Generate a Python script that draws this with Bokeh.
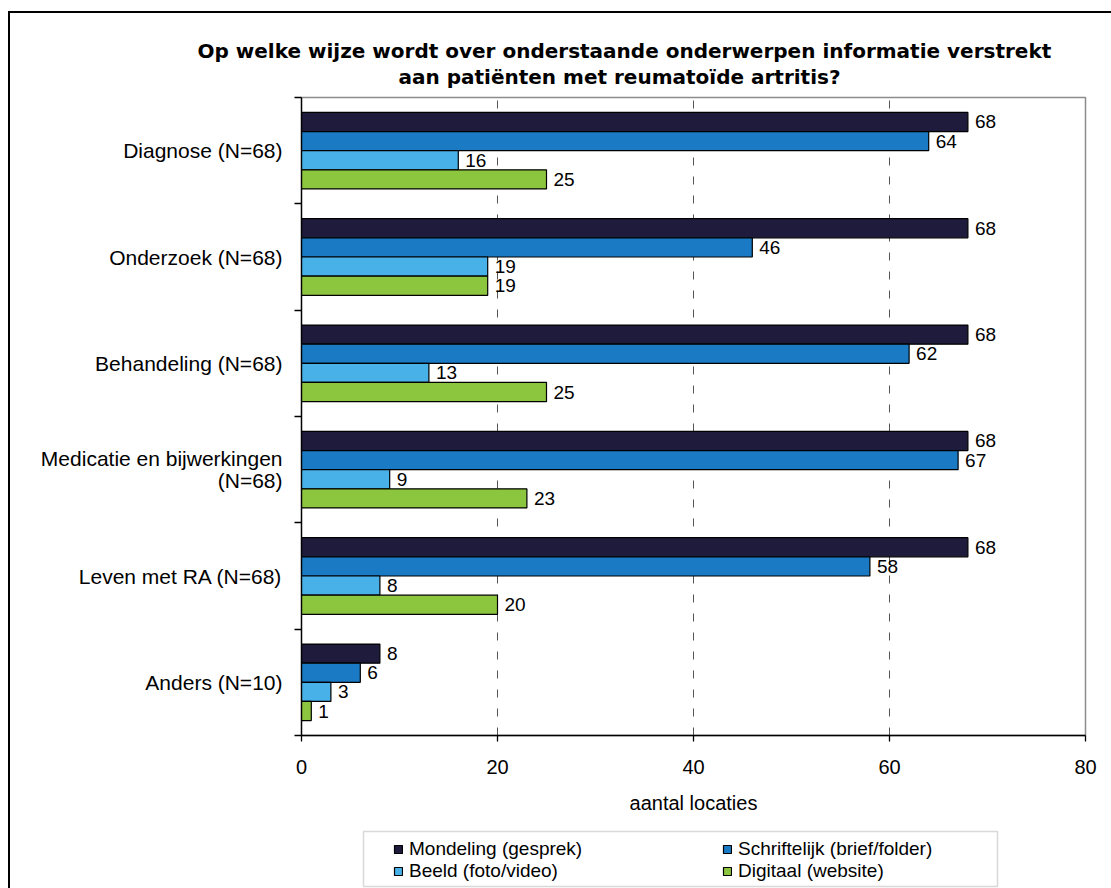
from bokeh.plotting import figure
from bokeh.layouts import column
from bokeh.models import Range1d, FixedTicker, Legend, LegendItem, Title, BoxAnnotation
from bokeh.core.properties import value
from bokeh.embed import file_html
from bokeh.resources import INLINE

# ---- data ----
categories = ["Diagnose (N=68)", "Onderzoek (N=68)", "Behandeling (N=68)",
              "Medicatie en bijwerkingen\n(N=68)", "Leven met RA (N=68)", "Anders (N=10)"]
series_names = ["Mondeling (gesprek)", "Schriftelijk (brief/folder)",
                "Beeld (foto/video)", "Digitaal (website)"]
mondeling = [68, 68, 68, 68, 68, 8]
schriftelijk = [64, 46, 62, 67, 58, 6]
beeld = [16, 19, 13, 9, 8, 3]
digitaal = [25, 19, 25, 23, 20, 1]
series_values = [mondeling, schriftelijk, beeld, digitaal]
colors = ["#1f1b3d", "#1a7bc4", "#48b1e8", "#8cc63f"]
x_ticks = [0, 20, 40, 60, 80]
title_lines = ["Op welke wijze wordt over onderstaande onderwerpen informatie verstrekt",
               "aan patiënten met reumatoïde artritis?"]
x_label = "aantal locaties"

FONT = "Liberation Sans"
LBL = "20px"
n = len(categories)
centers = [n - 0.5 - j for j in range(n)]
offsets = [0.27, 0.09, -0.09, -0.27]
bar_h = 0.18

# ---------------- main chart ----------------
p = figure(width=1101, height=810, x_range=Range1d(0, 80), y_range=Range1d(0, n),
           output_backend="svg", toolbar_location=None,
           min_border_left=291, min_border_right=26, min_border_top=84, min_border_bottom=88)
p.title.visible = False
p.background_fill_color = "white"
p.border_fill_color = "white"
p.outline_line_color = "#8c8c8c"
p.outline_line_width = 1.5

for vals, col, off in zip(series_values, colors, offsets):
    ys = [c + off for c in centers]
    p.hbar(y=ys, left=0, right=vals, height=bar_h, fill_color=col,
           line_color="black", line_width=1.2)
    p.text(x=vals, y=ys, text=[str(v) for v in vals], x_offset=7,
           text_align="left", text_baseline="middle",
           text_font=value(FONT), text_font_size="19px", text_color="black")

xa = p.xaxis[0]
xa.ticker = FixedTicker(ticks=x_ticks)
xa.axis_label = x_label
xa.axis_label_text_font = FONT
xa.axis_label_text_font_size = LBL
xa.axis_label_text_font_style = "normal"
xa.axis_label_text_color = "black"
xa.axis_label_standoff = 15
xa.major_label_text_font = FONT
xa.major_label_text_font_size = LBL
xa.major_label_text_color = "black"
xa.major_label_standoff = 18
xa.major_tick_out = 6
xa.major_tick_in = 0
xa.minor_tick_line_color = None
xa.axis_line_width = 1.3
xa.major_tick_line_width = 1.3

ya = p.yaxis[0]
ya.ticker = FixedTicker(ticks=centers, minor_ticks=list(range(n + 1)))
ya.major_label_overrides = {c: lab for c, lab in zip(centers, categories)}
ya.major_label_text_font = FONT
ya.major_label_text_font_size = "21px"
ya.major_label_text_line_height = 0.95
ya.major_label_text_color = "black"
ya.major_label_standoff = 12
ya.major_tick_line_color = None
ya.major_tick_out = 0
ya.minor_tick_out = 7
ya.minor_tick_in = 0
ya.minor_tick_line_color = "black"
ya.minor_tick_line_width = 1.3
ya.axis_line_width = 1.3

p.ygrid.visible = False
p.xgrid.ticker = FixedTicker(ticks=[20, 40, 60])
p.xgrid.grid_line_color = "#555555"
p.xgrid.grid_line_dash = "8 11"
p.xgrid.grid_line_width = 1

# title lines (spacer nearest the frame, then line 2, then line 1)
p.add_layout(Title(text=" ", standoff=0, text_font_size="7px"), "above")
p.add_layout(Title(text=title_lines[1], align="left", offset=97, standoff=0,
                   text_font="DejaVu Sans", text_font_style="bold",
                   text_font_size="20px", text_color="black"), "above")
p.add_layout(Title(text=title_lines[0], align="left", offset=-104, standoff=0,
                   text_font="DejaVu Sans", text_font_style="bold",
                   text_font_size="20px", text_color="black"), "above")

# ---------------- legend strip (frame aligned with the chart's frame) ----------------
lf = figure(width=1101, height=65, x_range=Range1d(0, 1), y_range=Range1d(0, 1),
            output_backend="svg", toolbar_location=None, min_border=0,
            x_axis_type=None, y_axis_type=None)
lf.title.visible = False
lf.outline_line_color = None
lf.grid.visible = False
lf.background_fill_color = "white"
lf.border_fill_color = "white"

# legend swatch renderers (kept outside the visible range of the strip)
leg_renderers = []
for col in colors:
    leg_renderers.append(lf.hbar(y=[-5], left=[0], right=[0.5], height=0.1, fill_color=col,
                                 line_color="black", line_width=1.2))

lf.add_layout(BoxAnnotation(left=62, right=696, top=57, bottom=2,
                            left_units="screen", right_units="screen",
                            top_units="screen", bottom_units="screen",
                            fill_color=None, fill_alpha=0,
                            line_color="#808080", line_width=1.5))

order = [0, 2, 1, 3]   # legend fills column by column
legend = Legend(items=[LegendItem(label=series_names[i], renderers=[leg_renderers[i]]) for i in order],
                ncols=2, location=(92, 6), border_line_color=None,
                background_fill_alpha=0, padding=0, spacing=0, margin=0,
                glyph_width=10, glyph_height=10, label_width=313, label_height=18,
                label_standoff=6, label_text_font=FONT, label_text_font_size="19px",
                label_text_color="black")
lf.add_layout(legend)

layout = column(p, lf, margin=(11, 0, 0, 8),
                styles={"border-left": "2px solid black", "border-top": "2px solid black"})

open("out.html", "w").write(file_html(layout, INLINE))
